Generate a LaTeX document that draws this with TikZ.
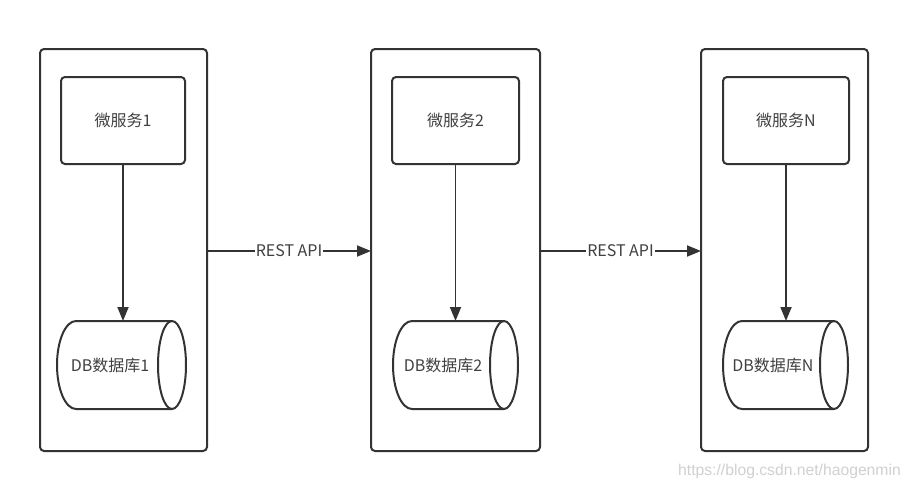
\documentclass[tikz,border=0pt]{standalone}
\usepackage{fontspec}
\setmainfont{Noto Sans CJK SC}
\newfontfamily\wmfont{Liberation Sans}
\usetikzlibrary{arrows.meta}
\definecolor{ln}{HTML}{333333}
\definecolor{tx}{HTML}{404040}
\definecolor{wm}{HTML}{D0D0D0}
\tikzset{
  outerbox/.style={draw=ln, line width=2pt, rounded corners=4pt},
  innerbox/.style={draw=ln, line width=2pt, rounded corners=4pt},
  lbl/.style={text=tx, font=\fontsize{16}{19}\selectfont, inner sep=1pt},
  conn/.style={draw=ln, line width=1.8pt, -{Triangle[length=14pt,width=11pt]}},
  cyl/.style={draw=ln, line width=2pt},
}
\newcommand{\mycyl}[6]{% name, left, ellipse center x, cy, text, text x
  \draw[cyl] (#3,#4-44) -- (#2+19,#4-44) arc[start angle=270, end angle=90, x radius=19, y radius=44] -- (#3,#4+44);
  \draw[cyl] (#3,#4) ellipse[x radius=14, y radius=44];
  \coordinate (#1top) at ({(#2+#3+14)/2},#4-44);
  \node[lbl] (#1) at (#6,#4) {#5};
}
\begin{document}
\begin{tikzpicture}[x=1pt,y=-1pt]
\useasboundingbox (0,0) rectangle (910,490);
% outer containers
\node[outerbox, minimum width=167pt, minimum height=402pt, anchor=north west, inner sep=0, outer sep=0] (c1) at (40,49) {};
\node[outerbox, minimum width=169pt, minimum height=402pt, anchor=north west, inner sep=0, outer sep=0] (c2) at (371,49) {};
\node[outerbox, minimum width=167pt, minimum height=402pt, anchor=north west, inner sep=0, outer sep=0] (c3) at (701,49) {};
% services
\node[innerbox, minimum width=124pt, minimum height=87pt, anchor=north west, outer sep=0] (s1) at (61,77) {};
\node[innerbox, minimum width=127pt, minimum height=87pt, anchor=north west, outer sep=0] (s2) at (392,77) {};
\node[innerbox, minimum width=126pt, minimum height=87pt, anchor=north west, outer sep=0] (s3) at (723,77) {};
\node[lbl] (t1) at (s1.center) {微服务1};
\node[lbl] (t2) at (s2.center) {微服务2};
\node[lbl] (t3) at (s3.center) {微服务N};
% databases
\mycyl{d1}{57}{172}{365}{DB数据库1}{110}
\mycyl{d2}{393}{504}{365}{DB数据库2}{443}
\mycyl{d3}{723}{834}{365}{DB数据库N}{773}
% vertical arrows
\draw[conn] (s1.south) -- (s1.south |- d1top);
\draw[conn] (s2.south) -- (s2.south |- d2top);
\draw[conn] (s3.south) -- (s3.south |- d3top);
% REST API
\draw[conn] (c1.east |- 0,251) -- node[lbl, fill=white, inner sep=1pt] (r1) {REST API} (c2.west |- 0,251);
\draw[conn] (c2.east |- 0,251) -- node[lbl, fill=white, inner sep=1pt] (r2) {REST API} (c3.west |- 0,251);
% watermark
\node[text=wm, font=\wmfont\fontsize{15.7}{18}\selectfont, anchor=west, inner sep=0] (wmk) at (678,471) {https://blog.csdn.net/haogenmin};
\end{tikzpicture}
\end{document}
